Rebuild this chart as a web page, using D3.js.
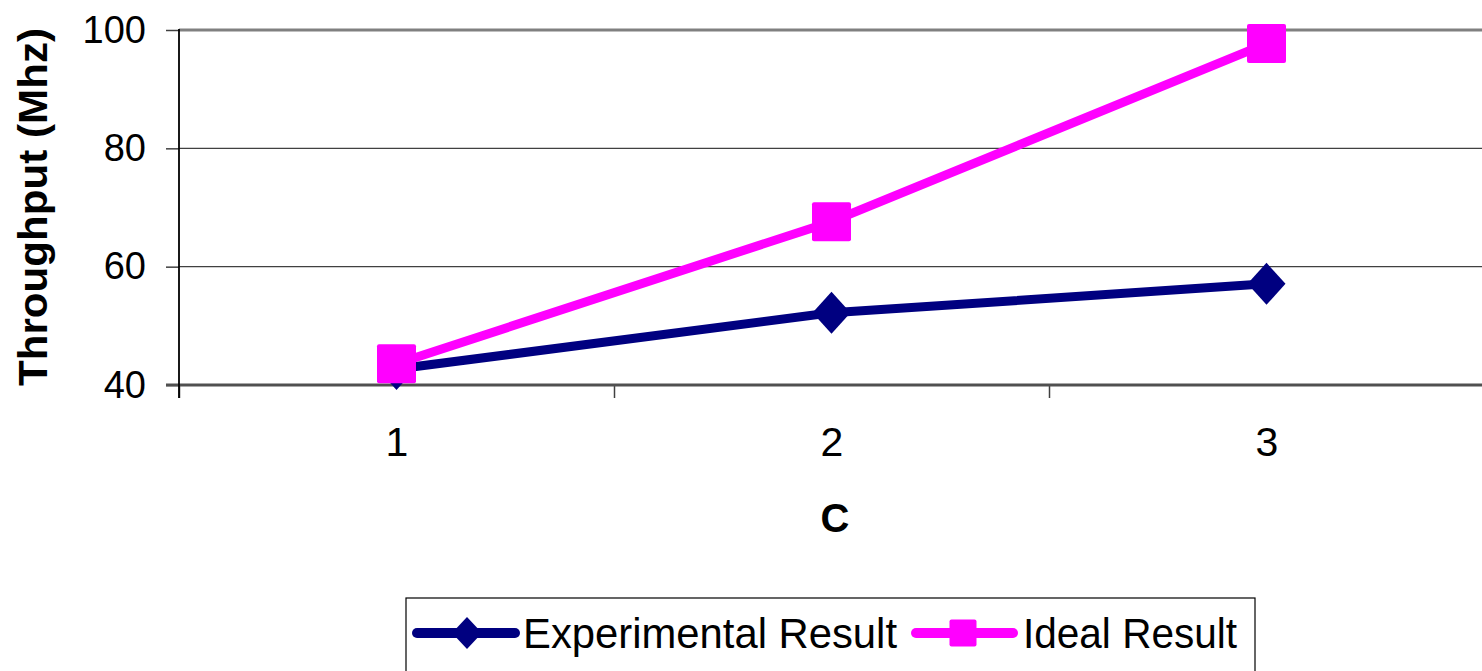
<!DOCTYPE html>
<html>
<head>
<meta charset="utf-8">
<script src="https://cdn.jsdelivr.net/npm/d3@7"></script>
<style>
  html, body { margin: 0; padding: 0; background: #fff; }
  svg { display: block; font-family: Arial, "Liberation Sans", sans-serif; }
</style>
</head>
<body>
<svg id="chart" width="1482" height="671"></svg>
<script>
const categories = [1, 2, 3];
const experimental = [42.7, 52.2, 57.1];
const ideal = [43.6, 67.6, 97.7];
const yTicks = [40, 60, 80, 100];
const seriesNames = ["Experimental Result", "Ideal Result"];
const xTitle = "C";
const yTitle = "Throughput (Mhz)";

(function () {
const svg = d3.select("#chart");
const pLeft = 179, pRight = 1484, pTop = 30, pBottom = 385;

const x = d3.scaleLinear().domain([0.5, 3.5]).range([pLeft, pRight]);
const y = d3.scaleLinear().domain([40, 100]).range([pBottom, pTop]);

// gridlines
svg.append("g").selectAll("line").data([60, 80]).join("line")
  .attr("x1", pLeft).attr("x2", 1482)
  .attr("y1", d => y(d)).attr("y2", d => y(d))
  .attr("stroke", "#404040").attr("stroke-width", 1.2);
// top border
svg.append("line").attr("x1", pLeft).attr("x2", 1482)
  .attr("y1", y(100)).attr("y2", y(100))
  .attr("stroke", "#808080").attr("stroke-width", 3);

// y axis
const yAxis = svg.append("g").attr("transform", `translate(${pLeft},0)`)
  .call(d3.axisLeft(y).tickValues(yTicks).tickSize(13).tickPadding(20).tickFormat(d3.format("d")));
yAxis.select(".domain").remove();
yAxis.selectAll(".tick line").attr("stroke", "#404040").attr("stroke-width", 1.5);
yAxis.selectAll("text").attr("font-size", 38).attr("fill", "#000")
  .attr("font-family", "Arial, 'Liberation Sans', sans-serif");

// x axis boundary ticks
const xb = svg.append("g").attr("transform", `translate(0,${pBottom})`)
  .call(d3.axisBottom(x).tickValues([0.5, 1.5, 2.5, 3.5]).tickSize(13).tickFormat(""));
xb.select(".domain").remove();
xb.selectAll(".tick line").attr("stroke", "#404040").attr("stroke-width", 1.5);
// bottom axis line
svg.append("line").attr("x1", pLeft - 13).attr("x2", 1482)
  .attr("y1", pBottom).attr("y2", pBottom)
  .attr("stroke", "#505050").attr("stroke-width", 3);
// left axis line
svg.append("line").attr("x1", pLeft).attr("x2", pLeft)
  .attr("y1", pTop - 1).attr("y2", pBottom + 13)
  .attr("stroke", "#000").attr("stroke-width", 1.8);

// x labels
const xl = svg.append("g").attr("transform", `translate(0,${pBottom})`)
  .call(d3.axisBottom(x).tickValues(categories).tickSize(0).tickPadding(42).tickFormat(d3.format("d")));
xl.select(".domain").remove();
xl.selectAll("text").attr("font-size", 41).attr("fill", "#000")
  .attr("font-family", "Arial, 'Liberation Sans', sans-serif");

// titles
svg.append("text").attr("x", 835).attr("y", 532).attr("text-anchor", "middle")
  .attr("font-size", 40).attr("font-weight", "bold").text(xTitle);
svg.append("text").attr("transform", "translate(47,207) rotate(-90)")
  .attr("text-anchor", "middle").attr("font-size", 41).attr("font-weight", "bold")
  .attr("textLength", 358).attr("lengthAdjust", "spacingAndGlyphs").text(yTitle);

// series
const line = d3.line().x((d, i) => x(categories[i])).y(d => y(d));
const diamond = (cx, cy, hw, hh) => `M${cx},${cy - hh}L${cx + hw},${cy}L${cx},${cy + hh}L${cx - hw},${cy}Z`;

svg.append("path").datum(experimental).attr("d", line)
  .attr("fill", "none").attr("stroke", "#000080").attr("stroke-width", 9).attr("stroke-linejoin", "round");
svg.append("g").selectAll("path").data(experimental).join("path")
  .attr("d", (d, i) => diamond(x(categories[i]), y(d), 19, 21))
  .attr("fill", "#000080");

svg.append("path").datum(ideal).attr("d", line)
  .attr("fill", "none").attr("stroke", "#FF00FF").attr("stroke-width", 9).attr("stroke-linejoin", "round");
svg.append("g").selectAll("rect").data(ideal).join("rect")
  .attr("x", (d, i) => x(categories[i]) - 19.5).attr("y", d => y(d) - 19.5)
  .attr("width", 39).attr("height", 39).attr("rx", 2)
  .attr("fill", "#FF00FF");

// legend
const lg = svg.append("g");
lg.append("rect").attr("x", 406).attr("y", 598).attr("width", 849).attr("height", 90)
  .attr("fill", "#fff").attr("stroke", "#000").attr("stroke-width", 1.2);
const ly = 633;
lg.append("line").attr("x1", 417).attr("x2", 515).attr("y1", ly).attr("y2", ly)
  .attr("stroke", "#000080").attr("stroke-width", 10).attr("stroke-linecap", "round");
lg.append("path").attr("d", diamond(467, ly, 15, 16)).attr("fill", "#000080");
lg.append("text").attr("x", 523).attr("y", ly + 15).attr("font-size", 42)
  .attr("textLength", 374).attr("lengthAdjust", "spacingAndGlyphs").text(seriesNames[0]);
lg.append("line").attr("x1", 916).attr("x2", 1013).attr("y1", ly).attr("y2", ly)
  .attr("stroke", "#FF00FF").attr("stroke-width", 10).attr("stroke-linecap", "round");
lg.append("rect").attr("x", 963 - 13.5).attr("y", ly - 13.5).attr("width", 27).attr("height", 27)
  .attr("rx", 2).attr("fill", "#FF00FF");
lg.append("text").attr("x", 1023).attr("y", ly + 15).attr("font-size", 42)
  .attr("textLength", 214).attr("lengthAdjust", "spacingAndGlyphs").text(seriesNames[1]);
})();
</script>
</body>
</html>
